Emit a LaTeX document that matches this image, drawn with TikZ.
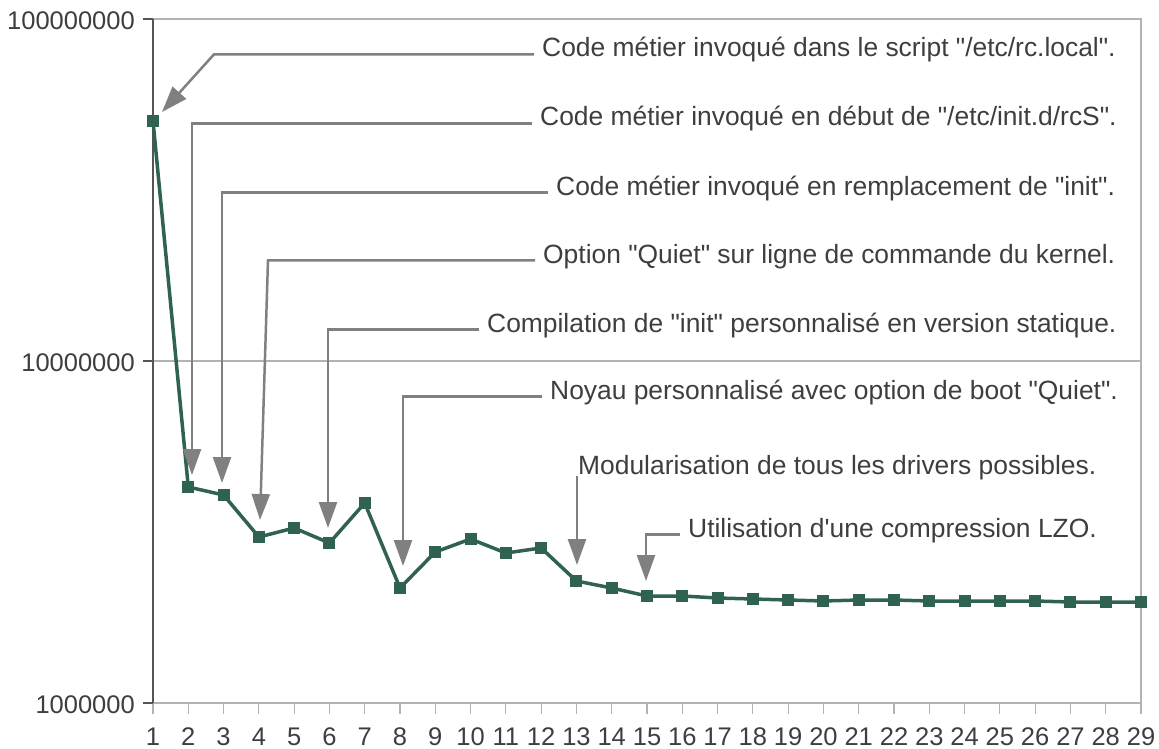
\documentclass[tikz,border=0pt]{standalone}
\usepackage{fontspec}
\setmainfont{Liberation Sans}[Ligatures=TeXOff]
\usetikzlibrary{arrows.meta}
\definecolor{series}{RGB}{47,99,80}
\definecolor{callgray}{RGB}{128,128,128}
\definecolor{axisdark}{RGB}{85,85,85}
\definecolor{gridlight}{RGB}{179,179,179}
\definecolor{txt}{RGB}{62,62,62}
\begin{document}
\begin{tikzpicture}[x=1pt,y=-1pt,
  note/.style={font=\fontsize{26.4}{30}\selectfont, text=txt, inner xsep=8pt, inner ysep=0pt, anchor=base west},
  ticklbl/.style={font=\fontsize{25.5}{30}\selectfont, text=txt, inner sep=0pt},
  callout/.style={draw=callgray, line width=2.5pt, -{Triangle[width=18pt,length=26pt]}},
  mk/.style={rectangle, fill=series, minimum size=12pt, inner sep=0pt},
  serie/.style={draw=series, line width=3.5pt, line join=round},
  grid/.style={draw=gridlight, line width=1.2pt},
  axis/.style={draw=axisdark, line width=2pt}]
\useasboundingbox (0,0) rectangle (1159,749);

% plot frame and decade grid lines
\draw[grid] (153,19) -- (1141,19) -- (1141,703);
\draw[grid] (153,361) -- (1141,361);
\draw[grid] (153,703) -- (1141,703);
\foreach \i in {1,...,29} {
  \draw[grid] ({153+(\i-1)*35.286},703) -- ++(0,11);
  \node[ticklbl, anchor=base] (x\i) at ({153+(\i-1)*35.286},745) {\i};
}
\draw[axis] (153,19) -- (153,703);
\foreach \yy/\lab [count=\k] in {19/100000000, 361/10000000, 703/1000000} {
  \draw[axis] (143,\yy) -- (153,\yy);
  \node[ticklbl, anchor=base east] (y\k) at (135,\yy+10.5) {\lab};
}

% data series (log scale)
\foreach \yy [count=\i] in {121,487,495,537,528,543,503,588,552,539,553,548,581,588,596,596,598,599,600,601,600,600,601,601,601,601,602,602,602}
  \coordinate (c\i) at ({153+(\i-1)*35.286},\yy);
\draw[serie] (c1) \foreach \i in {2,...,29} { -- (c\i) };
\foreach \i in {1,...,29} \node[mk] (p\i) at (c\i) {};

% annotation texts
\node[note] (t1) at (534,57)  {Code métier invoqué dans le script "/etc/rc.local".};
\node[note] (t2) at (532,126) {Code métier invoqué en début de "/etc/init.d/rcS".};
\node[note] (t3) at (548,195) {Code métier invoqué en remplacement de "init".};
\node[note] (t4) at (535,263) {Option "Quiet" sur ligne de commande du kernel.};
\node[note] (t5) at (479,332) {Compilation de "init" personnalisé en version statique.};
\node[note] (t6) at (542,399) {Noyau personnalisé avec option de boot "Quiet".};
\node[note] (t7) at (570,474) {Modularisation de tous les drivers possibles.};
\node[note] (t8) at (680,537) {Utilisation d'une compression LZO.};

% arrow tips and bends
\coordinate (a1) at (162,112);
\coordinate (k1) at (214,0);
\coordinate (a2) at (192,475);
\coordinate (a3) at (222,483);
\coordinate (a4) at (260,520);
\coordinate (k4) at (268,0);
\coordinate (a5) at (328,528);
\coordinate (a6) at (403,566);
\coordinate (s7) at (577,476);
\coordinate (a7) at (577,565);
\coordinate (a8) at (646,581);

\draw[callout] (t1.mid west) -- (t1.mid west -| k1) -- (a1);
\draw[callout] (t2.mid west) -| (a2);
\draw[callout] (t3.mid west) -| (a3);
\draw[callout] (t4.mid west) -- (t4.mid west -| k4) -- (a4);
\draw[callout] (t5.mid west) -| (a5);
\draw[callout] (t6.mid west) -| (a6);
\draw[callout] (s7) -- (a7);
\draw[callout] (t8.mid west) -| (a8);
\end{tikzpicture}
\end{document}
